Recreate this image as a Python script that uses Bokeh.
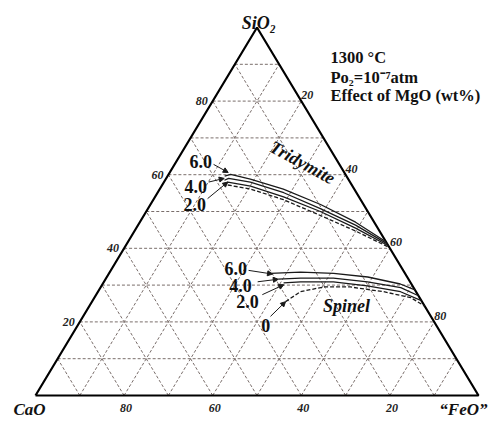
from bokeh.plotting import figure
from bokeh.models import Range1d, Label, Arrow, NormalHead, ColumnDataSource
from bokeh.core.properties import value
from bokeh.embed import file_html
from bokeh.resources import INLINE

# ---------------- data (wt%) : points given as SiO2, FeO ; CaO = 100 - SiO2 - FeO
grid_levels = [10, 20, 30, 40, 50, 60, 70, 80, 90]
tick_values = [20, 40, 60, 80]
tick_labels = ["20", "40", "60", "80"]

# Tridymite saturation boundaries for MgO = 6, 4, 2, 0 wt%
trid_mgo6_sio2 = [59.6, 60.1, 58.8, 56.1, 51.9, 47.1, 41.8]
trid_mgo6_feo = [12.9, 14.0, 19.1, 27.9, 38.4, 48.7, 58.2]
trid_mgo4_sio2 = [58.5, 59.0, 58.0, 55.1, 50.8, 46.3, 41.2]
trid_mgo4_feo = [13.4, 14.1, 19.5, 28.5, 38.9, 49.1, 58.8]
trid_mgo2_sio2 = [57.4, 58.0, 56.9, 54.0, 50.0, 45.5, 40.7]
trid_mgo2_feo = [14.2, 14.4, 20.1, 29.0, 39.3, 49.5, 59.3]
trid_mgo0_sio2 = [57.2, 56.1, 53.2, 48.9, 44.7, 40.2]
trid_mgo0_feo = [14.8, 20.5, 29.4, 39.9, 49.9, 59.8]

# Spinel saturation boundaries for MgO = 6, 4, 2, 0 wt%
spin_mgo6_sio2 = [33.2, 33.5, 33.2, 32.2, 30.3, 28.7]
spin_mgo6_feo = [36.4, 43.1, 50.7, 58.9, 67.2, 71.3]
spin_mgo4_sio2 = [31.6, 31.9, 31.9, 30.9, 29.3, 27.1]
spin_mgo4_feo = [39.0, 43.9, 51.3, 59.5, 67.8, 72.9]
spin_mgo2_sio2 = [30.6, 30.9, 30.9, 29.8, 28.2, 25.8]
spin_mgo2_feo = [40.7, 44.4, 51.8, 60.0, 68.3, 74.2]
spin_mgo0_sio2 = [25.5, 28.2, 29.5, 29.5, 28.2, 26.6, 24.3]
spin_mgo0_feo = [43.7, 45.7, 50.3, 56.3, 64.5, 71.4, 75.7]

# MgO labels and their leader arrows (SiO2, FeO)
mgo_labels = ["6.0", "4.0", "2.0", "6.0", "4.0", "2.0", "0"]
mgo_label_sio2 = [63.6, 56.9, 51.9, 34.6, 29.8, 25.5, 18.9]
mgo_label_feo = [5.5, 7.7, 10.0, 27.9, 31.4, 35.1, 42.5]
arrow_tail_sio2 = [62.8, 58.0, 53.5, 34.0, 30.9, 27.4, 21.5]
arrow_tail_feo = [8.8, 10.1, 12.1, 31.1, 34.7, 37.5, 42.3]
arrow_head_sio2 = [60.6, 59.0, 58.0, 33.0, 31.6, 30.1, 25.5]
arrow_head_feo = [13.2, 13.1, 14.4, 37.0, 39.0, 41.0, 43.7]

# phase field names (SiO2, FeO)
phase_names = ["Tridymite", "Spinel"]
phase_sio2 = [63.3, 24.2]
phase_feo = [28.6, 58.1]


def cx(sio2, feo):
    return [f / 100.0 + s / 200.0 for s, f in zip(sio2, feo)]


def cy(sio2, feo):
    return [s / 100.0 for s in sio2]


p = figure(width=488, height=420,
           x_range=Range1d(-0.07901, 1.02257), y_range=Range1d(-0.06793, 1.07337),
           output_backend="svg", toolbar_location=None, min_border=0,
           x_axis_location=None, y_axis_location=None)
p.grid.visible = False
p.outline_line_color = None
p.background_fill_color = "white"

# ---------------- grid
gcolor = "#7a6e6b"
gx, gy = [], []
for L in grid_levels:
    segs = [([L, L], [0, 100 - L]),            # SiO2 = L
            ([0, 100 - L], [L, L]),            # FeO = L
            ([0, 100 - L], [100 - L, 0])]      # CaO = L
    for s, f in segs:
        gx.append(cx(s, f))
        gy.append(cy(s, f))
p.multi_line(gx, gy, line_color=gcolor, line_width=1, line_dash="3 2")

# ---------------- triangle
tri_s = [0, 0, 100, 0]
tri_f = [0, 100, 0, 0]
p.line(cx(tri_s, tri_f), cy(tri_s, tri_f), line_color="black", line_width=2.2)

# ---------------- boundaries
solid = [(trid_mgo6_sio2, trid_mgo6_feo), (trid_mgo4_sio2, trid_mgo4_feo),
         (trid_mgo2_sio2, trid_mgo2_feo), (spin_mgo6_sio2, spin_mgo6_feo),
         (spin_mgo4_sio2, spin_mgo4_feo), (spin_mgo2_sio2, spin_mgo2_feo)]
for s, f in solid:
    p.line(cx(s, f), cy(s, f), line_color="#1a1a1a", line_width=1.3)
for s, f in [(trid_mgo0_sio2, trid_mgo0_feo), (spin_mgo0_sio2, spin_mgo0_feo)]:
    p.line(cx(s, f), cy(s, f), line_color="#1a1a1a", line_width=1.3, line_dash="4 2")

# ---------------- arrows + MgO labels
asrc = ColumnDataSource(dict(x0=cx(arrow_tail_sio2, arrow_tail_feo), y0=cy(arrow_tail_sio2, arrow_tail_feo),
                             x1=cx(arrow_head_sio2, arrow_head_feo), y1=cy(arrow_head_sio2, arrow_head_feo)))
p.add_layout(Arrow(source=asrc, x_start="x0", y_start="y0", x_end="x1", y_end="y1",
                   line_width=1, line_color="#1a1a1a",
                   end=NormalHead(size=5, fill_color="#1a1a1a", line_color="#1a1a1a")))
p.text(cx(mgo_label_sio2, mgo_label_feo), cy(mgo_label_sio2, mgo_label_feo), text=mgo_labels,
       text_font=value("Liberation Serif"), text_font_style="bold", text_font_size="18px",
       text_align="center", text_baseline="middle", text_color="#111111")

# ---------------- phase names
p.text(cx(phase_sio2[:1], phase_feo[:1]), cy(phase_sio2[:1], phase_feo[:1]), text=phase_names[:1],
       angle=-0.5, text_font=value("Liberation Serif"), text_font_style="bold italic",
       text_font_size="18px", text_align="center", text_baseline="middle", text_color="#111111")
p.text(cx(phase_sio2[1:], phase_feo[1:]), cy(phase_sio2[1:], phase_feo[1:]), text=phase_names[1:],
       text_font=value("Liberation Serif"), text_font_style="bold italic",
       text_font_size="18px", text_align="center", text_baseline="middle", text_color="#111111")

# ---------------- tick labels
tick_kw = dict(text_font=value("Liberation Serif"), text_font_style="bold italic",
               text_font_size="12px", text_color="#222222")
zeros = [0] * len(tick_values)
# SiO2 on left edge
p.text(cx(tick_values, zeros), cy(tick_values, zeros), text=tick_labels,
       text_align="right", text_baseline="middle", x_offset=-5, **tick_kw)
# CaO on base edge
base_feo = [100 - v for v in tick_values]
p.text(cx(zeros, base_feo), cy(zeros, base_feo), text=tick_labels,
       text_align="center", text_baseline="alphabetic", x_offset=2, y_offset=12, **tick_kw)
# FeO on right edge
right_s = [100 - v for v in tick_values]
p.text(cx(right_s, tick_values), cy(right_s, tick_values), text=tick_labels,
       text_align="left", text_baseline="bottom", x_offset=0, y_offset=-2, **tick_kw)

# ---------------- corner labels
corner_kw = dict(text_font="Liberation Serif", text_font_style="bold italic",
                 text_font_size="17px", text_color="#111111")
p.add_layout(Label(x=0.5, y=1.0, text="SiO₂", text_align="center", text_baseline="alphabetic",
                   y_offset=5, x_offset=2, text_font="Liberation Serif", text_font_style="bold italic",
                   text_font_size="18px", text_color="#111111"))
p.add_layout(Label(x=0.0, y=0.0, text="CaO", text_align="left", text_baseline="alphabetic",
                   y_offset=-14, x_offset=-22, **corner_kw))
p.add_layout(Label(x=1.0, y=0.0, text="“FeO”", text_align="right", text_baseline="alphabetic",
                   y_offset=-14, x_offset=9, **corner_kw))

# ---------------- conditions text
cond_kw = dict(text_font="Liberation Serif", text_font_style="bold",
               text_font_size="16.5px", text_color="#111111", text_align="left",
               text_baseline="alphabetic")
cond_x = 0.6659
p.add_layout(Label(x=cond_x, y=0.9185, text="1300 °C", **cond_kw))
p.add_layout(Label(x=cond_x, y=0.8641, text="Po₂=10⁻⁷atm", **cond_kw))
p.add_layout(Label(x=cond_x, y=0.8152, text="Effect of MgO (wt%)", **cond_kw))

open("out.html", "w").write(file_html(p, INLINE))
